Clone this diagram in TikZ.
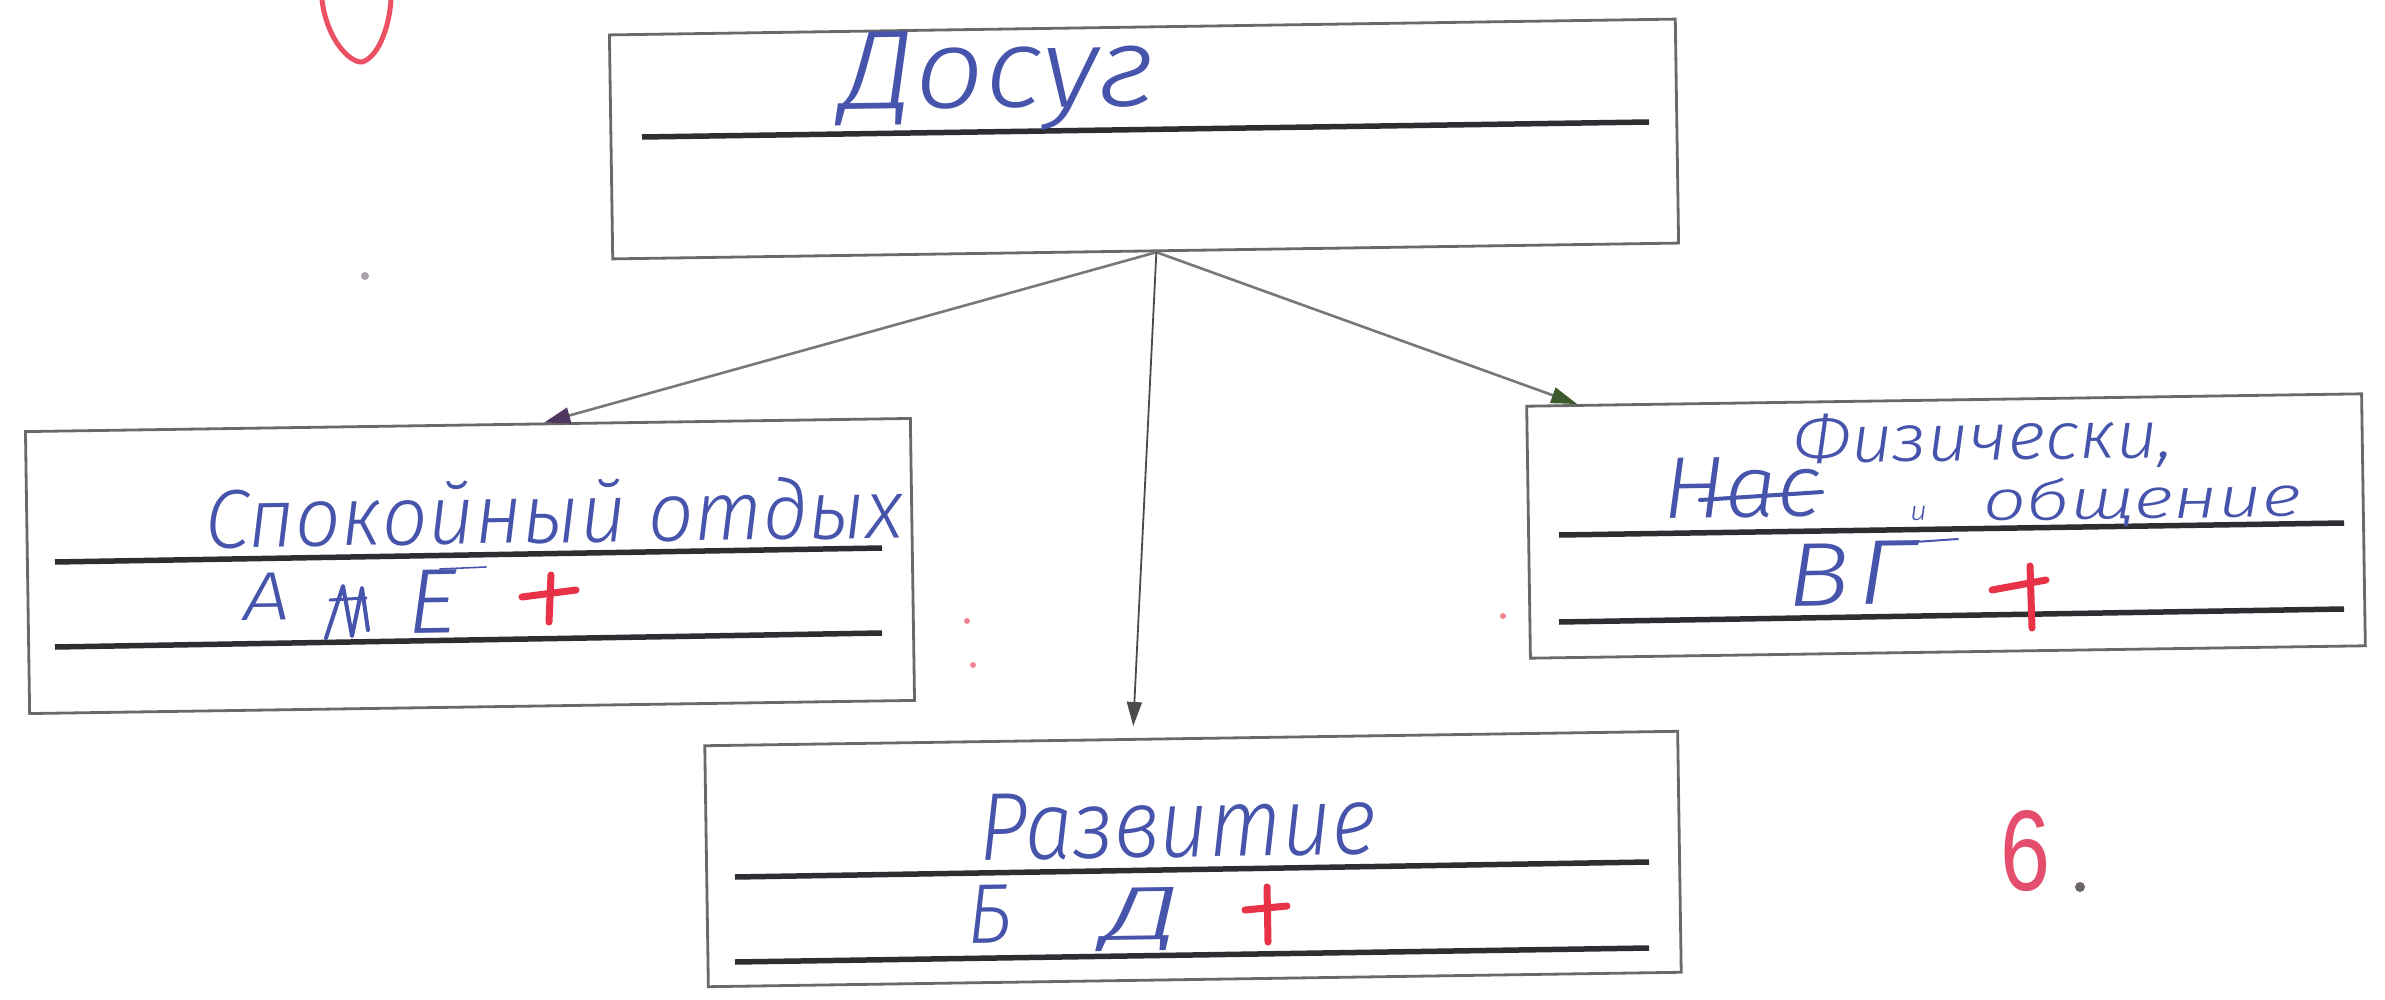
\documentclass[tikz,border=0pt]{standalone}
\usepackage{fontspec}
\usepackage{graphicx}
\usetikzlibrary{arrows.meta,calc}
\newfontfamily\handA{Liberation Serif}
\IfFontExistsTF{Fira Sans Light Italic}{%
  \newfontfamily\handB{Fira Sans Light Italic}\newcommand\hand{\handB}}{%
  \newcommand\hand{\handA\itshape}}
\newfontfamily\marker{Liberation Sans}
\newcommand\hw[3]{\resizebox{#1pt}{#2pt}{\hand #3}}
\definecolor{ink}{RGB}{70,84,172}
\definecolor{redpen}{RGB}{232,50,72}
\definecolor{pinksix}{RGB}{228,78,108}
\definecolor{boxgray}{RGB}{105,105,105}
\definecolor{rulecol}{RGB}{45,45,50}
\definecolor{conncol}{RGB}{120,120,120}
\definecolor{tippurple}{RGB}{80,55,95}
\definecolor{tipgreen}{RGB}{60,90,45}
\definecolor{tipgray}{RGB}{75,75,75}
\definecolor{dotgray}{RGB}{110,100,110}
\begin{document}
\begin{tikzpicture}[x=1pt,y=-1pt,
  box/.style={draw=boxgray, line width=2.8pt, rectangle, inner sep=0pt, rotate=0.85},
  rul/.style={draw=rulecol, line width=5.5pt},
  txt/.style={anchor=base west, inner sep=0pt, text=ink, rotate=0.85},
  conn/.style={draw=conncol, line width=2.6pt},
  plus/.style={draw=redpen, line width=7pt, line cap=round},
  inkline/.style={draw=ink, line cap=round},
  speck/.style={fill=redpen!60}
]
\fill[white] (0,0) rectangle (2385,1000);
\useasboundingbox (0,0) rectangle (2385,1000);

% boxes
\node[box, minimum width=1066, minimum height=224] (top) at (1144,139) {};
\node[box, minimum width=885, minimum height=282] (left) at (470,566) {};
\node[box, minimum width=835, minimum height=252] (right) at (1946,526) {};
\node[box, minimum width=973, minimum height=241] (bottom) at (1193,859) {};

% writing lines
\draw[rul] (642,137) -- (1649,122);
\draw[rul] (55,562) -- (882,548);
\draw[rul] (55,647) -- (882,633);
\draw[rul] (1559,535) -- (2344,523);
\draw[rul] (1559,622) -- (2344,609);
\draw[rul] (735,877) -- (1649,862);
\draw[rul] (735,962) -- (1649,948);

% connectors
\coordinate (hub) at ($(top.south west)!0.51!(top.south east)$);
\coordinate (lend) at ($(left.north west)!0.586!(left.north east)$);
\coordinate (rend) at ($(right.north west)!0.062!(right.north east)$);
\coordinate (bend) at ($(bottom.north west)!0.44!(bottom.north east)$);
\draw[conn, -{Triangle[length=26pt,width=16pt,color=tippurple,fill=tippurple]}] (hub) -- (lend);
\draw[conn, -{Triangle[length=26pt,width=16pt,color=tipgreen,fill=tipgreen]}] (hub) -- (rend);
\draw[draw=tipgray, line width=1.8pt, shorten >=12pt, -{Triangle[length=24pt,width=15pt,color=tipgray,fill=tipgray]}] (hub) -- (bend);

% top box text
\node[txt] (tdosug) at (842,110) {\hw{313}{77}{Досуг}};

% left box text
\node[txt] (tspok) at (205,548) {\hw{698}{63}{Спокойный отдых}};
\node[txt] (ta) at (243,620) {\hw{47}{47}{А}};
\draw[inkline, line width=4pt, line join=round] (326,638) -- (343,586) -- (352,636) -- (362,588) -- (368,630);
\draw[inkline, line width=3pt] (330,600) -- (366,598);
\node[txt] (te) at (407,633) {\hw{50}{63}{Е}};
\draw[inkline, line width=1.6pt] (440,569) -- (486,567);
\draw[plus] (522,597) -- (576,590);
\draw[plus] (551,575) -- (549,622);

% right box text
\node[txt] (tnas) at (1663,518) {\hw{157}{60}{Нас}};
\draw[inkline, line width=4pt] (1700,500) -- (1822,492);
\node[txt] (tfiz) at (1793,463) {\hw{380}{48}{Физически,}};
\node[txt] (ti) at (1910,521) {\hw{17}{14}{и}};
\node[txt] (tobsh) at (1983,521) {\hw{318}{42}{общение}};
\node[txt] (tv) at (1787,606) {\hw{63}{62}{В}};
\node[txt] (tg) at (1857,604) {\hw{58}{63}{Г}};
\draw[inkline, line width=2pt] (1900,543) -- (1958,539);
\draw[plus] (1992,590) -- (2046,580);
\draw[plus] (2030,566) -- (2032,628);

% bottom box text
\node[txt] (trazv) at (979,860) {\hw{397}{66}{Развитие}};
\node[txt] (tb) at (967,943) {\hw{45}{58}{Б}};
\node[txt] (td) at (1103,940) {\hw{78}{52}{Д}};
\draw[plus] (1245,910) -- (1287,906);
\draw[plus] (1267,887) -- (1268,942);

% marks
\node[anchor=base west, inner sep=0pt, text=pinksix] (six) at (2000,890) {\resizebox{50pt}{80pt}{\marker 6}};
\fill[dotgray] (2080,887) circle (5);
\draw[redpen!85, line width=5pt, line cap=round] (322,0) .. controls (327,40) and (350,63) .. (362,62) .. controls (377,58) and (389,30) .. (391,0);
\fill[dotgray!60] (365,276) circle (4);
\fill[speck] (967,621) circle (3);
\fill[speck] (973,665) circle (3);
\fill[speck] (1503,616) circle (3);
\end{tikzpicture}
\end{document}
